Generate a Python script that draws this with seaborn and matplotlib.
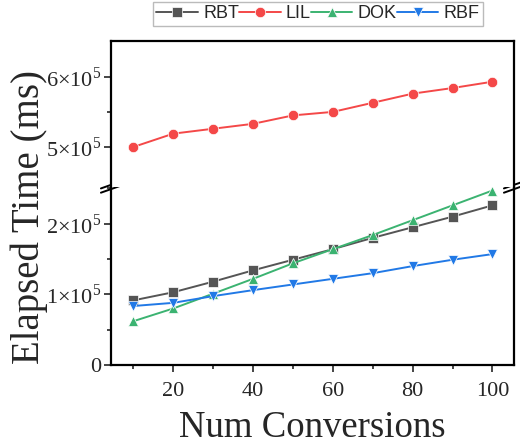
import matplotlib
matplotlib.use("Agg")
import matplotlib.pyplot as plt
import seaborn as sns
import pandas as pd
from matplotlib.ticker import FixedLocator, FuncFormatter, MultipleLocator

conversions = [10, 20, 30, 40, 50, 60, 70, 80, 90, 100]
rbt = [0.915e5, 1.03e5, 1.18e5, 1.34e5, 1.49e5, 1.64e5, 1.80e5, 1.95e5, 2.10e5, 2.26e5]
lil = [5.00e5, 5.19e5, 5.26e5, 5.33e5, 5.45e5, 5.50e5, 5.63e5, 5.76e5, 5.84e5, 5.93e5]
dok = [0.62e5, 0.80e5, 1.01e5, 1.22e5, 1.44e5, 1.64e5, 1.84e5, 2.05e5, 2.26e5, 2.47e5]
rbf = [0.835e5, 0.88e5, 0.975e5, 1.06e5, 1.14e5, 1.22e5, 1.30e5, 1.40e5, 1.49e5, 1.57e5]
series_names = ["RBT", "LIL", "DOK", "RBF"]
lower_ticks = [0, 1e5, 2e5]
upper_ticks = [5e5, 6e5]
x_ticks = [20, 40, 60, 80, 100]

sns.set_style("ticks")
plt.rcParams['font.family'] = ['Liberation Serif', 'DejaVu Serif']
plt.rcParams['mathtext.fontset'] = 'custom'
plt.rcParams['mathtext.rm'] = 'Liberation Serif'

df = pd.DataFrame({
    "x": conversions * 4,
    "y": rbt + lil + dok + rbf,
    "series": sum([[n] * len(conversions) for n in series_names], []),
})

palette = {"RBT": "#555555", "LIL": "#F44848", "DOK": "#3BB371", "RBF": "#2179E6"}
markers = {"RBT": "s", "LIL": "o", "DOK": "^", "RBF": "v"}

fig = plt.figure(figsize=(5.2, 4.47), dpi=100)
left, width = 111 / 520, (514 - 111) / 520
ax_lo = fig.add_axes([left, 1 - 365 / 447, width, 178 / 447])
ax_hi = fig.add_axes([left, 1 - 187 / 447, width, 146 / 447])

for ax in (ax_lo, ax_hi):
    sns.lineplot(data=df, x="x", y="y", hue="series", style="series",
                 palette=palette, markers=markers, dashes=False,
                 markersize=7.5, markeredgewidth=0.5, linewidth=1.4, ax=ax,
                 legend=(ax is ax_hi))
    ax.set_xlim(4.4, 105.4)
    ax.set_xlabel("")
    ax.set_ylabel("")
    for s in ax.spines.values():
        s.set_linewidth(1.6)
        s.set_color("black")
    ax.tick_params(axis="both", which="major", length=5, width=1.2, direction="out",
                   labelsize=16, pad=2)
    ax.tick_params(axis="both", which="minor", length=3, width=1.2, direction="out")

def fmt(v, pos):
    if v == 0:
        return "0"
    return r"$%d{\times}10^{5}$" % round(v / 1e5)

ax_lo.set_ylim(0, 2.52e5)
ax_lo.yaxis.set_major_locator(FixedLocator(lower_ticks))
ax_lo.yaxis.set_minor_locator(MultipleLocator(0.5e5))
ax_lo.yaxis.set_major_formatter(FuncFormatter(fmt))
ax_lo.xaxis.set_major_locator(FixedLocator(x_ticks))
ax_lo.xaxis.set_minor_locator(MultipleLocator(10))
ax_lo.spines["top"].set_visible(False)
ax_lo.tick_params(axis="x", which="major", pad=7)

ax_hi.set_ylim(4.43e5, 6.51e5)
ax_hi.yaxis.set_major_locator(FixedLocator(upper_ticks))
ax_hi.yaxis.set_minor_locator(FixedLocator([5.5e5]))
ax_hi.yaxis.set_major_formatter(FuncFormatter(fmt))
ax_hi.spines["bottom"].set_visible(False)
ax_hi.tick_params(axis="x", which="both", bottom=False, labelbottom=False)

# axis-break marks
for xpos in (0, 1):
    for dy in (-0.012, 0.012):
        ax_lo.plot([xpos - 0.025, xpos + 0.025], [1 + dy - 0.02, 1 + dy + 0.02],
                   transform=ax_lo.transAxes, color="black", lw=1.4, clip_on=False)

fig.text(29 / 520, 1 - 217.5 / 447, "Elapsed Time (ms)", rotation=90, va="center",
         ha="center", fontsize=28)
fig.text(left + width / 2, 0.005, "Num Conversions", ha="center", va="bottom",
         fontsize=26.5)

handles, labels = ax_hi.get_legend_handles_labels()
ax_hi.get_legend().remove()
leg = fig.legend(handles, labels, loc="upper center", bbox_to_anchor=(318 / 520, 1.0),
                 ncol=4, frameon=True, fancybox=False, edgecolor="#aaaaaa",
                 prop={"family": "Liberation Sans", "size": 13},
                 handlelength=2.3, handletextpad=0.3, columnspacing=0.0,
                 borderpad=0.2, borderaxespad=0.1)
leg.get_frame().set_linewidth(1.0)

fig.savefig("out.png", dpi=100)
